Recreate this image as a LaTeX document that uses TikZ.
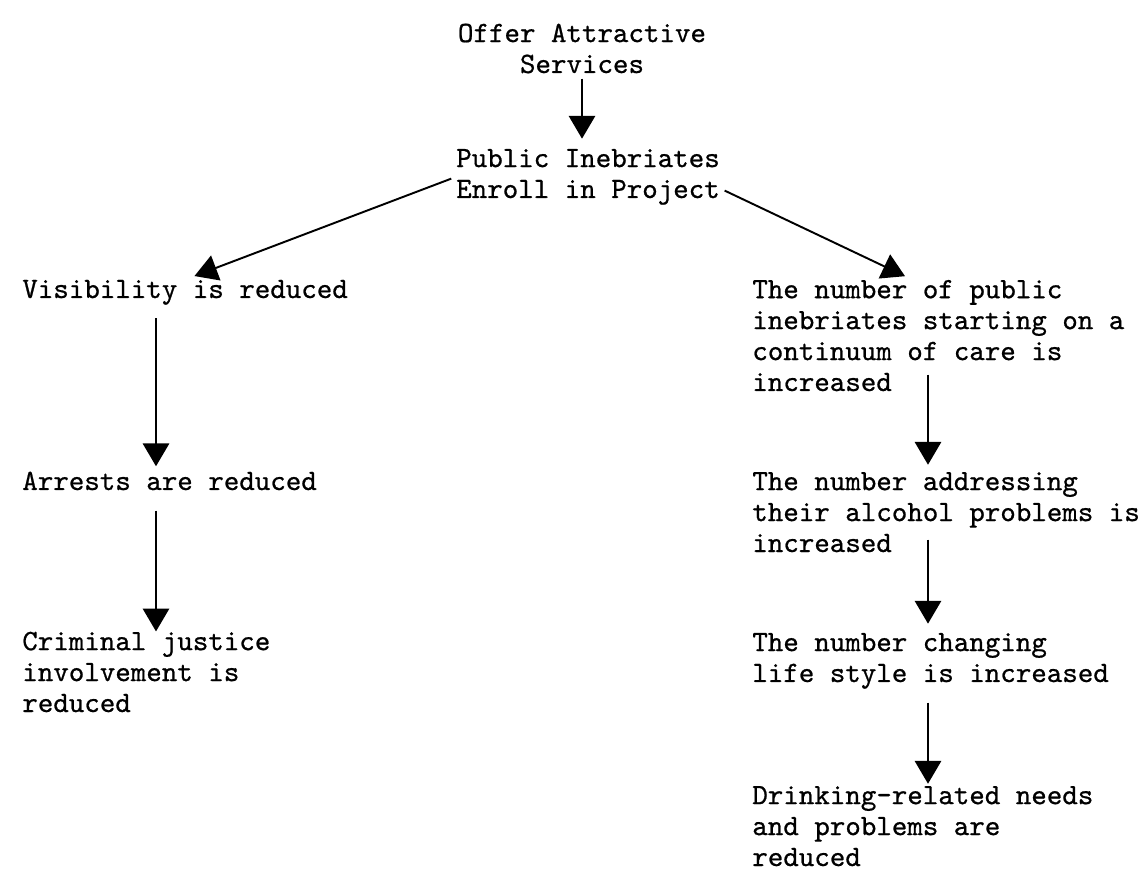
\documentclass[tikz,border=0pt]{standalone}
\usepackage{fontspec}
\newfontfamily\typewriter{lmmono10-regular.otf}[FakeBold=0.7]
\usepackage{tikz}
\usetikzlibrary{arrows.meta}

\begin{document}
\begin{tikzpicture}
[box/.style={font=\fontsize{16.8}{17.6}\selectfont\typewriter, inner sep=0, align=left},
 link/.style={-{Triangle[length=13pt,width=15pt]}, line width=1.1pt}]
\useasboundingbox (0,0) rectangle (22.94,-17.56);
\coordinate (lcol) at ( 3.12,0);
\coordinate (rcol) at (18.56,0);
% base = baseline of the last line
\node [box, align=center, anchor=base] (offer)  at (11.64,-1.46) {Offer Attractive\\Services};
\node [box, align=center, anchor=base] (enroll) at (11.76,-3.96) {Public Inebriates\\Enroll in Project};
\node [box, anchor=base west] (vis)     at ( 0.44, -5.96) {Visibility is reduced};
\node [box, anchor=base west] (arrests) at ( 0.44, -9.80) {Arrests are reduced};
\node [box, anchor=base west] (crim)    at ( 0.44,-14.24) {Criminal justice\\involvement is\\reduced};
\node [box, anchor=base west] (start)   at (15.04, -7.82) {The number of public\\inebriates starting on a\\continuum of care is\\increased};
\node [box, anchor=base west] (address) at (15.04,-11.04) {The number addressing\\their alcohol problems is\\increased};
\node [box, anchor=base west] (change)  at (15.04,-13.64) {The number changing\\life style is increased};
\node [box, anchor=base west] (drink)   at (15.04,-17.32) {Drinking-related needs\\and problems are\\reduced};
\draw[link, shorten <=1mm, shorten >=2mm] (offer.south) -- (enroll.north -| offer.south);
\draw[link, shorten <=1mm, shorten >=2mm] (enroll.west) -- (vis.north);
\draw[link, shorten <=1mm, shorten >=1.6mm] (enroll.-5) -- (start.115);
\foreach \from/\to/\col/\sa/\sb in {vis/arrests/lcol/2.6/1, arrests/crim/lcol/4/0,
    start/address/rcol/-3.4/1.4, address/change/rcol/-2.6/1.8, change/drink/rcol/2.7/0.4}
  \draw[link, shorten <=\sa mm, shorten >=\sb mm] (\from.south -| \col) -- (\to.north -| \col);
\end{tikzpicture}
\end{document}
